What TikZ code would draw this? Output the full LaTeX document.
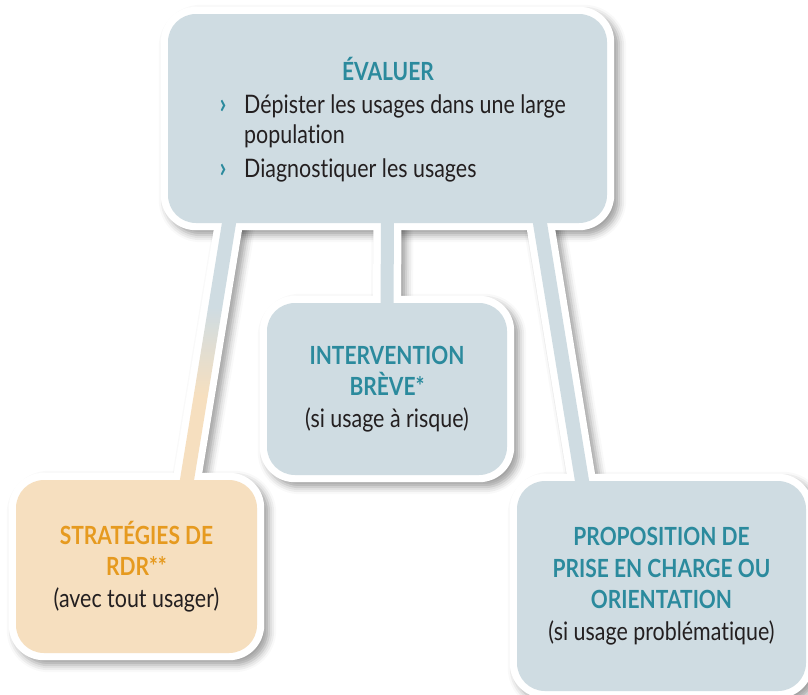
\documentclass[tikz,border=0pt]{standalone}
\usepackage{fontspec}
\setmainfont{Lato}[FakeStretch=0.84, Ligatures={NoCommon}]
\usetikzlibrary{calc,shadows.blur}
\definecolor{boxblue}{HTML}{CFDCE2}
\definecolor{boxorange}{HTML}{F6DFBF}
\definecolor{ttl}{HTML}{2B8A9D}
\definecolor{otl}{HTML}{E69A1F}
\definecolor{txt}{HTML}{231F20}
\pgfdeclarelayer{shadowlayer}
\pgfdeclarelayer{whitelayer}
\pgfsetlayers{shadowlayer,whitelayer,main}
\pgfdeclareverticalshading{barshade}{100bp}{color(0bp)=(boxorange); color(42bp)=(boxorange); color(58bp)=(boxblue); color(100bp)=(boxblue)}
\newcommand\hdb[1]{{\fontsize{25}{31}\selectfont\bfseries\color{ttl}#1}}
\newcommand\hdo[1]{{\fontsize{25}{31}\selectfont\bfseries\color{otl}#1}}
\tikzset{
  box/.style={rectangle, rounded corners=28pt, fill=boxblue, inner sep=0pt, text=txt,
    align=center, font=\fontsize{25.5}{31.5}\selectfont},
  obox/.style={box, fill=boxorange},
  lbl/.style={inner sep=0pt, text=txt, font=\fontsize{25.5}{30}\selectfont},
  sh/.style={blur shadow={shadow xshift=5pt, shadow yshift=-5pt, shadow blur radius=7pt, shadow opacity=38}},
}
\begin{document}
\begin{tikzpicture}[x=1pt,y=-1pt]
\useasboundingbox (0,0) rectangle (808,694);
% boxes
\node[box, minimum width=439pt, minimum height=209pt] (top) at (387.5,118.5) {};
\node[box, minimum width=240pt, minimum height=172pt] (mid) at (387,389)
  {\hdb{INTERVENTION}\\\hdb{BRÈVE*}\\(si usage à risque)};
\node[obox, minimum width=241pt, minimum height=173pt] (left) at (136.5,566.5)
  {\hdo{STRATÉGIES DE}\\\hdo{RDR**}\\(avec tout usager)};
\node[box, minimum width=289pt, minimum height=210pt] (right) at (661.5,586)
  {\hdb{PROPOSITION DE}\\\hdb{PRISE EN CHARGE OU}\\\hdb{ORIENTATION}\\(si usage problématique)};
% top box text
\node[lbl, anchor=base, text=ttl, font=\fontsize{25}{30}\selectfont\bfseries] (evt) at (388,80) {ÉVALUER};
\node[lbl, anchor=base, text=ttl, font=\fontsize{28}{30}\selectfont\bfseries] (b1) at (223,113) {›};
\node[lbl, anchor=base west] (t1) at (244,113) {Dépister les usages dans une large};
\node[lbl, anchor=base west] (t2) at (244,143) {population};
\node[lbl, anchor=base, text=ttl, font=\fontsize{28}{30}\selectfont\bfseries] (b2) at (223,177) {›};
\node[lbl, anchor=base west] (t3) at (244,177) {Diagnostiquer les usages};
% connector end points
\coordinate (lA) at ($(top.south)+(-157.2,-8)$);
\coordinate (lB) at ($(left.north)+(49.2,8)$);
\coordinate (mA) at ($(top.south)+(0,-8)$);
\coordinate (mB) at ($(mid.north)+(0,8)$);
\coordinate (rA) at ($(top.south)+(151.2,-8)$);
\coordinate (rB) at ($(right.north)+(-78.2,8)$);
% shadows
\begin{pgfonlayer}{shadowlayer}
  \foreach \n in {top,mid,left,right}{
    \path[sh, rounded corners=35pt] ($(\n.north west)+(-7,-7)$) rectangle ($(\n.south east)+(7,7)$);}
  \foreach \a/\b in {lA/lB,mA/mB,rA/rB}{
    \path[sh] ($(\a)!14pt!90:(\b)$) -- ($(\a)!14pt!-90:(\b)$) -- ($(\b)!14pt!90:(\a)$) -- ($(\b)!14pt!-90:(\a)$) -- cycle;}
\end{pgfonlayer}
% white outlines and connector fills
\begin{pgfonlayer}{whitelayer}
  \foreach \n in {top,mid,left,right}{
    \fill[white, rounded corners=35pt] ($(\n.north west)+(-7,-7)$) rectangle ($(\n.south east)+(7,7)$);}
  \foreach \a/\b in {lA/lB,mA/mB,rA/rB}{
    \fill[white] ($(\a)!14pt!90:(\b)$) -- ($(\a)!14pt!-90:(\b)$) -- ($(\b)!14pt!90:(\a)$) -- ($(\b)!14pt!-90:(\a)$) -- cycle;}
  \shade[shading=barshade] ($(lA)!7pt!90:(lB)$) -- ($(lA)!7pt!-90:(lB)$) -- ($(lB)!7pt!90:(lA)$) -- ($(lB)!7pt!-90:(lA)$) -- cycle;
  \fill[boxblue] ($(mA)!6.5pt!90:(mB)$) -- ($(mA)!6.5pt!-90:(mB)$) -- ($(mB)!6.5pt!90:(mA)$) -- ($(mB)!6.5pt!-90:(mA)$) -- cycle;
  \fill[boxblue] ($(rA)!7pt!90:(rB)$) -- ($(rA)!7pt!-90:(rB)$) -- ($(rB)!7pt!90:(rA)$) -- ($(rB)!7pt!-90:(rA)$) -- cycle;
\end{pgfonlayer}
\end{tikzpicture}
\end{document}
